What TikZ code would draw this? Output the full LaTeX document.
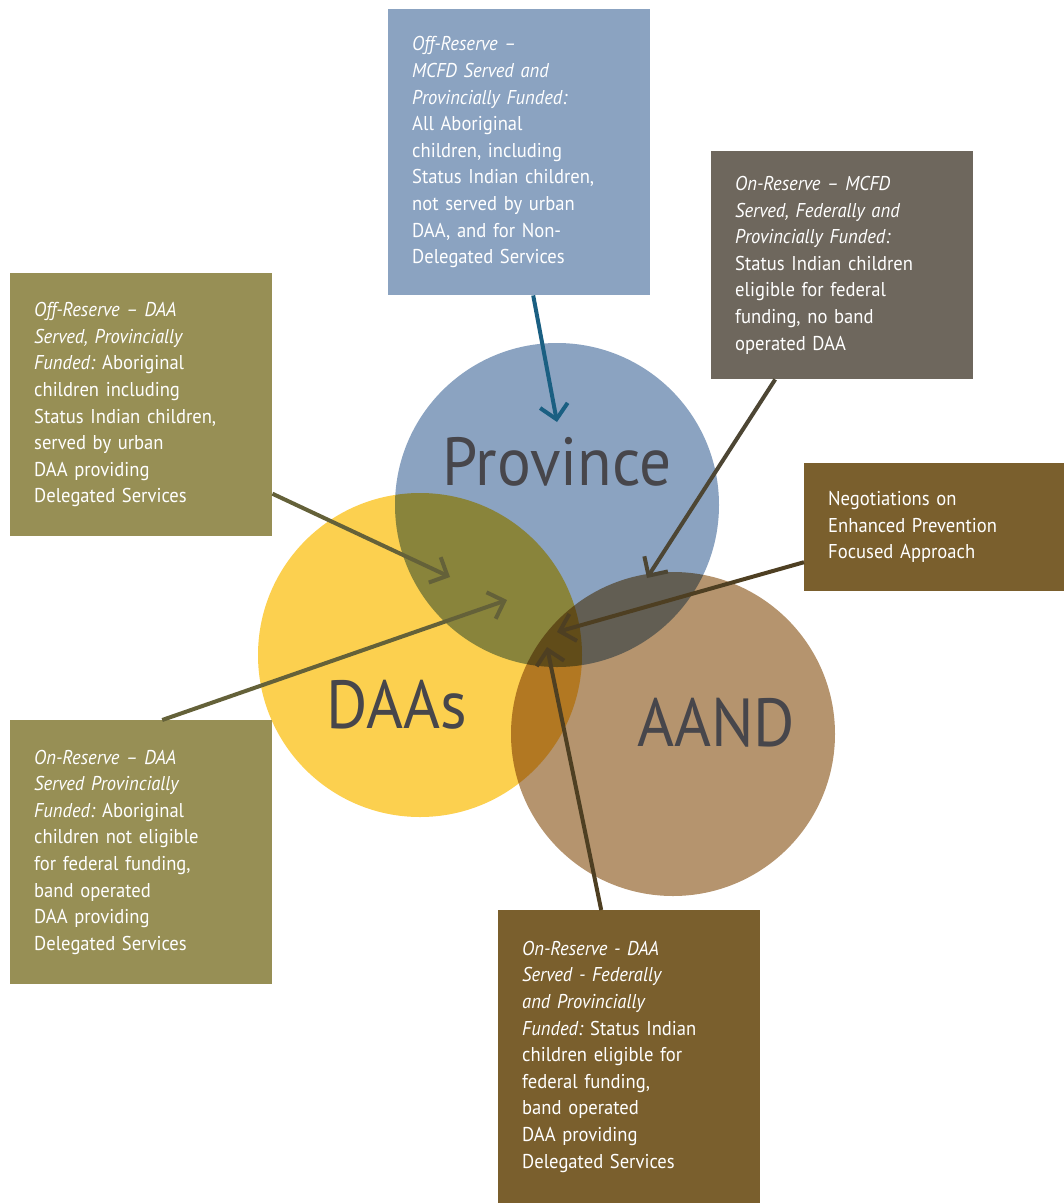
\documentclass[tikz,border=0pt]{standalone}
\usepackage{fontspec}
\setmainfont{PT Sans}[FakeStretch=0.93]
\usetikzlibrary{arrows.meta,positioning}

\definecolor{provblue}{HTML}{8BA3C1}
\definecolor{daayellow}{HTML}{FCD04F}
\definecolor{aandbrown}{HTML}{B5946E}
\definecolor{boxgray}{HTML}{6E675D}
\definecolor{boxolive}{HTML}{978F55}
\definecolor{boxbrown}{HTML}{7A5F2D}
\definecolor{labelgray}{HTML}{47464B}
\definecolor{arrblue}{HTML}{1A5F82}
\definecolor{arrgray}{HTML}{4D4634}
\definecolor{arrolive}{HTML}{646139}
\definecolor{arrbrown}{HTML}{4E3F22}

\begin{document}
\begin{tikzpicture}[x=1pt,y=-1pt,
    infobox/.style={anchor=north west, text=white, align=left, text width=214pt,
      inner xsep=24pt, inner ysep=0pt, font=\fontsize{20}{26.6}\selectfont},
    biglabel/.style={anchor=base, text=labelgray, font=\fontsize{68}{68}\selectfont},
    pointer/.style={line width=4pt, -{Straight Barb[length=14pt,width=28pt]}}]
  \useasboundingbox (0,0) rectangle (1064,1203);

  % the three circles
  \begin{scope}[blend group=multiply]
    \fill[provblue] (557,505) circle[radius=162];
    \fill[daayellow] (420,655) circle[radius=162];
    \fill[aandbrown] (673,734) circle[radius=162];
  \end{scope}
  \node[biglabel] (lprov) at (557,485) {Province};
  \node[biglabel] (ldaa) at (397,728) {DAAs};
  \node[biglabel] (laand) at (716,746) {AAND};

  % boxes
  \node[infobox, fill=provblue, minimum height=286pt] (offmcfd) at (388,9)
    {\textit{Off-Reserve –}\\ \textit{MCFD Served and}\\ \textit{Provincially Funded:}\\
     All Aboriginal\\ children, including\\ Status Indian children,\\
     not served by urban\\ DAA, and for Non-\\ Delegated Services};
  \node[infobox, fill=boxgray, minimum height=228pt] (onmcfd) at (711,151)
    {\textit{On-Reserve – MCFD}\\ \textit{Served, Federally and}\\ \textit{Provincially Funded:}\\
     Status Indian children\\ eligible for federal\\ funding, no band\\ operated DAA};
  \node[infobox, fill=boxolive, minimum height=263pt] (offdaa) at (10,273)
    {\textit{Off-Reserve – DAA}\\ \textit{Served, Provincially}\\ \textit{Funded:}~Aboriginal\\
     children including\\ Status Indian children,\\ served by urban\\
     DAA providing\\ Delegated Services};
  \node[infobox, fill=boxbrown, minimum height=128pt] (negot) at (804,463)
    {Negotiations on\\ Enhanced Prevention\\ Focused Approach};
  \node[infobox, fill=boxolive, minimum height=264pt] (ondaa) at (10,720)
    {\textit{On-Reserve – DAA}\\ \textit{Served Provincially}\\ \textit{Funded:}~Aboriginal\\
     children not eligible\\ for federal funding,\\ band operated\\
     DAA providing\\ Delegated Services};
  \node[infobox, fill=boxbrown, minimum height=293pt] (onfed) at (498,910)
    {\textit{On-Reserve - DAA}\\ \textit{Served - Federally}\\ \textit{and Provincially}\\
     \textit{Funded:}~Status Indian\\ children eligible for\\ federal funding,\\
     band operated\\ DAA providing\\ Delegated Services};

  % arrow tips
  \coordinate (tprov) at (557,422);
  \coordinate (tgray) at (647,578);
  \coordinate (toff) at (450,577);
  \coordinate (ton) at (507,600);
  \coordinate (tneg) at (557,632);
  \coordinate (tfed) at (547,647);

  \draw[pointer, arrblue] ([xshift=14pt]offmcfd.south) -- (tprov);
  \draw[pointer, arrgray] ([xshift=-67pt]onmcfd.south) -- (tgray);
  \draw[pointer, arrolive] ([yshift=-89pt]offdaa.east) -- (toff);
  \draw[pointer, arrolive] ([xshift=21pt]ondaa.north) -- (ton);
  \draw[pointer, arrbrown] ([yshift=-35pt]negot.west) -- (tneg);
  \draw[pointer, arrbrown] ([xshift=-28pt]onfed.north) -- (tfed);
\end{tikzpicture}
\end{document}
